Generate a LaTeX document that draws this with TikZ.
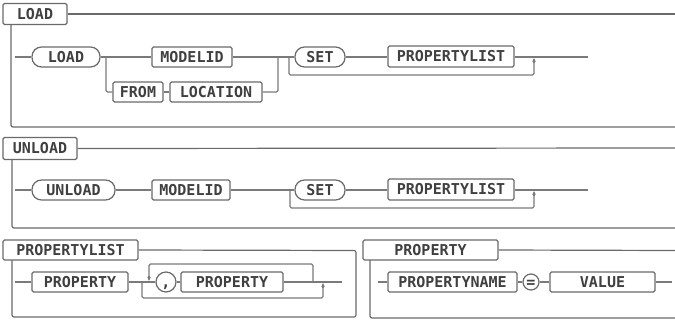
\documentclass[tikz,border=0pt]{standalone}
\usepackage{fontspec}
\newfontfamily\monofam{DejaVu Sans Mono Bold}
\usetikzlibrary{arrows.meta,calc}
\definecolor{boxc}{HTML}{6A6A6A}
\definecolor{linec}{HTML}{7A7A7A}
\definecolor{txtc}{HTML}{404040}
\tikzset{
  term/.style={draw=boxc, line width=1.2pt, rounded corners=1.5pt, minimum height=20pt,
    inner sep=0pt, font=\monofam\fontsize{15}{15}\selectfont, text=txtc,
    text height=10.5pt, text depth=0pt},
  kw/.style={term, rounded corners=9.5pt},
  ttl/.style={term, minimum height=21pt},
  sym/.style={term, circle, rounded corners=0pt},
  wire/.style={draw=linec, line width=1.2pt},
  frame/.style={draw=boxc, line width=1.2pt, rounded corners=2pt},
  tip/.style={wire, -{Stealth[length=4pt,width=3.6pt]}}
}
\begin{document}
\begin{tikzpicture}[x=1pt,y=-1pt]
\useasboundingbox (0,0) rectangle (675,321);
% ================= LOAD =================
\node[ttl, minimum width=64pt] (tLoad) at (35,14) {LOAD};
\draw[frame] (tLoad.east) -- (675,14);
\draw[frame] (11,24.5) -- (11,127) -- (675,127);
\coordinate (aS) at (15,57);
\node[kw, minimum width=68pt] (aLoad) at (66,57) {LOAD};
\node[term, minimum width=80pt] (aModel) at (192,57) {MODELID};
\node[term, minimum width=50pt] (aFrom) at (138,92) {FROM};
\node[term, minimum width=92pt] (aLoc) at (216,92) {LOCATION};
\node[kw, minimum width=50pt] (aSet) at (320,57) {SET};
\node[term, minimum width=126pt, minimum height=21pt] (aPl) at (451,56.5) {PROPERTYLIST};
\coordinate (aB1) at (106,57);
\coordinate (aJ1) at (278,57);
\coordinate (aB2) at (289,57);
\coordinate (aJ2) at (534,57);
\coordinate (aE) at (588,57);
\draw[wire] (aS) -- (aLoad.west);
\draw[wire] (aLoad.east) -- (aModel.west);
\draw[wire, rounded corners=1.5pt] (aB1) |- (aFrom.west);
\draw[wire] (aFrom.east) -- (aLoc.west);
\draw[wire, rounded corners=1.5pt] (aLoc.east) -| (aJ1);
\draw[wire] (aModel.east) -- (aSet.west);
\draw[wire] (aSet.east) -- (aPl.west |- aSet);
\draw[wire] (aPl.east |- aSet) -- (aE);
\draw[wire, rounded corners=1.5pt] (aB2) -- (289,75) -- (534,75) -- ($(aJ2)+(0,5)$);
\draw[tip] ($(aJ2)+(0,6)$) -- ($(aJ2)+(0,1)$);
% ================= UNLOAD =================
\node[ttl, minimum width=74pt, minimum height=22pt] (tUnload) at (40,148.5) {UNLOAD};
\draw[frame] (tUnload.east) -- (675,148);
\draw[frame] (12,159.5) -- (12,228) -- (675,228);
\coordinate (bS) at (15,190);
\node[kw, minimum width=83pt] (bUnload) at (73.5,190) {UNLOAD};
\node[term, minimum width=78pt] (bModel) at (191,190) {MODELID};
\node[kw, minimum width=50pt] (bSet) at (320,190) {SET};
\node[term, minimum width=126pt, minimum height=21pt] (bPl) at (451,189.5) {PROPERTYLIST};
\coordinate (bB2) at (290,190);
\coordinate (bJ2) at (534,190);
\coordinate (bE) at (588,190);
\draw[wire] (bS) -- (bUnload.west);
\draw[wire] (bUnload.east) -- (bModel.west);
\draw[wire] (bModel.east) -- (bSet.west);
\draw[wire] (bSet.east) -- (bPl.west |- bSet);
\draw[wire] (bPl.east |- bSet) -- (bE);
\draw[wire, rounded corners=1.5pt] (bB2) -- (290,208) -- (534,208) -- ($(bJ2)+(0,5)$);
\draw[tip] ($(bJ2)+(0,6)$) -- ($(bJ2)+(0,1)$);
% ================= PROPERTYLIST =================
\node[ttl, minimum width=135pt, minimum height=20pt] (tPl) at (70.5,250) {PROPERTYLIST};
\draw[frame] (tPl.east) -- (356,250.5) -- (356,317) -- (12,317) -- (12,260);
\coordinate (cS) at (15,282);
\node[term, minimum width=96pt] (cP1) at (80,282) {PROPERTY};
\node[sym, minimum size=20pt] (cComma) at (166,282) {,};
\node[term, minimum width=102pt] (cP2) at (232,282) {PROPERTY};
\coordinate (cB) at (142,282);
\coordinate (cR) at (313,282);
\coordinate (cLoopIn) at (149,282);
\coordinate (cJ) at (323,282);
\coordinate (cE) at (342,282);
\draw[wire] (cS) -- (cP1.west);
\draw[wire] (cP1.east) -- (cComma.west);
\draw[wire] (cComma.east) -- (cP2.west);
\draw[wire] (cP2.east) -- (cE);
\draw[wire, rounded corners=1.5pt] (cR) -- (313,264) -- (149,264) -- ($(cLoopIn)+(0,-5)$);
\draw[tip] ($(cLoopIn)+(0,-6)$) -- ($(cLoopIn)+(0,-1)$);
\draw[wire, rounded corners=1.5pt] (cB) -- (142,298) -- (323,298) -- ($(cJ)+(0,5)$);
\draw[tip] ($(cJ)+(0,6)$) -- ($(cJ)+(0,1)$);
% ================= PROPERTY =================
\node[ttl, minimum width=135pt, minimum height=20pt] (tProp) at (430.5,250) {PROPERTY};
\draw[frame] (tProp.east) -- (675,250.5);
\draw[frame] (370,260) -- (370,318) -- (675,318);
\coordinate (dS) at (378,282);
\node[term, minimum width=129pt] (dName) at (452.5,282) {PROPERTYNAME};
\node[sym, minimum size=16pt] (dEq) at (531,282) {=};
\node[term, minimum width=105pt] (dVal) at (602.5,282) {VALUE};
\coordinate (dE) at (672,282);
\draw[wire] (dS) -- (dName.west);
\draw[wire] (dName.east) -- (dEq.west);
\draw[wire] (dEq.east) -- (dVal.west);
\draw[wire] (dVal.east) -- (dE);
\end{tikzpicture}
\end{document}
